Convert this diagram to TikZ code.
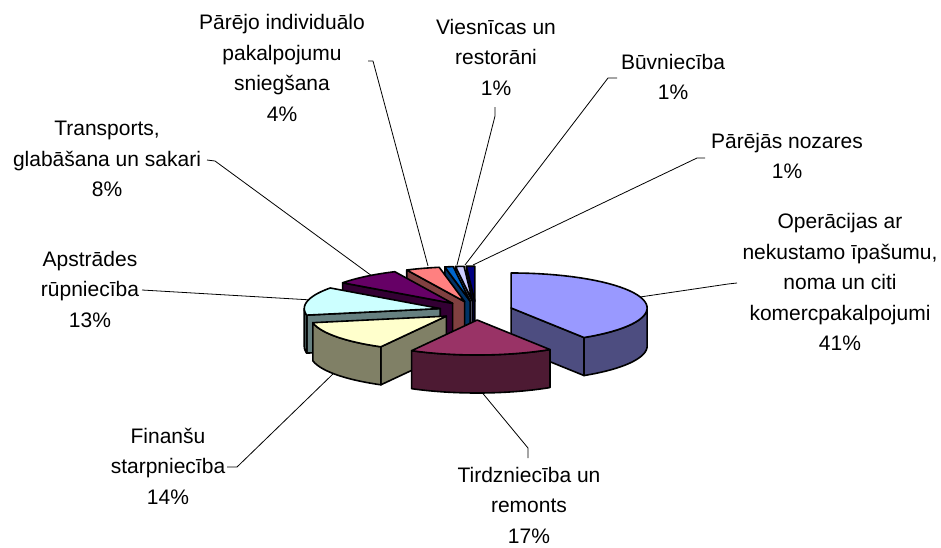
\documentclass[tikz,border=0pt]{standalone}
\usepackage{fontspec}
\setmainfont{Liberation Sans}
\definecolor{opT}{HTML}{9999FF}\definecolor{opS}{HTML}{4D4D80}
\definecolor{tiT}{HTML}{993366}\definecolor{tiS}{HTML}{4D1A33}
\definecolor{fiT}{HTML}{FFFFCC}\definecolor{fiS}{HTML}{808066}
\definecolor{apT}{HTML}{CCFFFF}\definecolor{apS}{HTML}{668080}
\definecolor{trT}{HTML}{660066}\definecolor{trS}{HTML}{330033}
\definecolor{inT}{HTML}{FF8080}\definecolor{inS}{HTML}{804040}
\definecolor{viT}{HTML}{0066CC}\definecolor{viS}{HTML}{003366}
\definecolor{buT}{HTML}{CCCCFF}\definecolor{buS}{HTML}{666680}
\definecolor{paT}{HTML}{000080}\definecolor{paS}{HTML}{000040}
\newcommand\pcApex[2]{\pgfmathsetmacro\pcbis{(#1+#2)/2}\pgfmathsetmacro\pcx{476+36.6*sin(\pcbis)}\pgfmathsetmacro\pcy{310.6-9.4*cos(\pcbis)}}
\newcommand\pcTop[3]{\filldraw[edge,fill=#3] (\pcx,\pcy) -- plot[domain=#1:#2,samples=40] ({\pcx+136*sin(\x)},{\pcy-35*cos(\x)}) -- cycle;}
\newcommand\pcWall[2]{\filldraw[edge,fill=#2] (\pcx,\pcy) -- ({\pcx+136*sin(#1)},{\pcy-35*cos(#1)}) -- ({\pcx+136*sin(#1)},{\pcy-35*cos(#1)+38}) -- (\pcx,{\pcy+38}) -- cycle;}
\newcommand\pcOuter[3]{\filldraw[edge,fill=#3] plot[domain=#1:#2,samples=30] ({\pcx+136*sin(\x)},{\pcy-35*cos(\x)}) -- plot[domain=#2:#1,samples=30] ({\pcx+136*sin(\x)},{\pcy-35*cos(\x)+38}) -- cycle;}
\begin{document}
\begin{tikzpicture}[x=1pt,y=-1pt,line join=round,
  edge/.style={draw=black,line width=1.6pt},
  lead/.style={draw=black,line width=0.8pt},
  lbl/.style={align=center,inner sep=0pt,font=\fontsize{21}{30.5}\selectfont}]
\useasboundingbox[fill=white] (0,0) rectangle (941,547);
% labels
\node[lbl] (lin) at (282,68) {Pārējo individuālo\\pakalpojumu\\sniegšana\\4\%};
\node[lbl] (lvi) at (496,57) {Viesnīcas un\\restorāni\\1\%};
\node[lbl] (lbu) at (673,77) {Būvniecība\\1\%};
\node[lbl] (lpa) at (787,156) {Pārējās nozares\\1\%};
\node[lbl] (lop) at (840,282) {Operācijas ar\\nekustamo īpašumu,\\noma un citi\\komercpakalpojumi\\41\%};
\node[lbl] (lti) at (529,505) {Tirdzniecība un\\remonts\\17\%};
\node[lbl] (lfi) at (168,466) {Finanšu\\starpniecība\\14\%};
\node[lbl] (lap) at (90,289) {Apstrādes\\rūpniecība\\13\%};
\node[lbl] (ltr) at (107,159) {Transports,\\glabāšana un sakari\\8\%};
% leader points
\coordinate (in1) at (368,61); \coordinate (in2) at (373,61); \coordinate (in3) at (428,266);
\coordinate (vi1) at (495,107); \coordinate (vi2) at (495,116); \coordinate (vi3) at (457,265);
\coordinate (bu1) at (617,78); \coordinate (bu2) at (608,78); \coordinate (bu3) at (465,265);
\coordinate (pa1) at (705,158); \coordinate (pa2) at (697,158); \coordinate (pa3) at (473,265);
\coordinate (op1) at (737,283); \coordinate (op2) at (728,284); \coordinate (op3) at (640,297);
\coordinate (ti1) at (528,458); \coordinate (ti2) at (528,448); \coordinate (ti3) at (480,390);
\coordinate (fi1) at (227,467); \coordinate (fi2) at (237,467); \coordinate (fi3) at (335,372);
\coordinate (ap1) at (142,290); \coordinate (ap3) at (312,300);
\coordinate (tr1) at (207,160); \coordinate (tr2) at (215,161); \coordinate (tr3) at (372,276);
\draw[lead] (in1) -- (in2) -- (in3);
\draw[lead] (vi1) -- (vi2) -- (vi3);
\draw[lead] (bu1) -- (bu2) -- (bu3);
\draw[lead] (pa1) -- (pa2) -- (pa3);
\draw[lead] (op1) -- (op2) -- (op3);
\draw[lead] (ti1) -- (ti2) -- (ti3);
\draw[lead] (fi1) -- (fi2) -- (fi3);
\draw[lead] (ap1) -- (ap3);
\draw[lead] (tr1) -- (tr2) -- (tr3);
% pie slices, back to front
\pcApex{356.4}{360}\pcWall{356.4}{paS}\pcTop{356.4}{360}{paT}
\pcApex{352.8}{356.4}\pcWall{352.8}{buS}\pcTop{352.8}{356.4}{buT}
\pcApex{349.2}{352.8}\pcWall{349.2}{viS}\pcTop{349.2}{352.8}{viT}
\pcApex{334.8}{349.2}\pcWall{334.8}{inS}\pcTop{334.8}{349.2}{inT}
\pcApex{306}{334.8}\pcWall{306}{trS}\pcTop{306}{334.8}{trT}
\pcApex{0}{147.6}\pcWall{147.6}{opS}\pcOuter{90}{147.6}{opS}\pcTop{0}{147.6}{opT}
\pcApex{259.2}{306}\pcWall{259.2}{apS}\pcOuter{259.2}{270}{apS}\pcTop{259.2}{306}{apT}
\pcApex{208.8}{259.2}\pcWall{208.8}{fiS}\pcOuter{208.8}{259.2}{fiS}\pcTop{208.8}{259.2}{fiT}
\pcApex{147.6}{208.8}\pcOuter{147.6}{208.8}{tiS}\pcTop{147.6}{208.8}{tiT}
\end{tikzpicture}
\end{document}
